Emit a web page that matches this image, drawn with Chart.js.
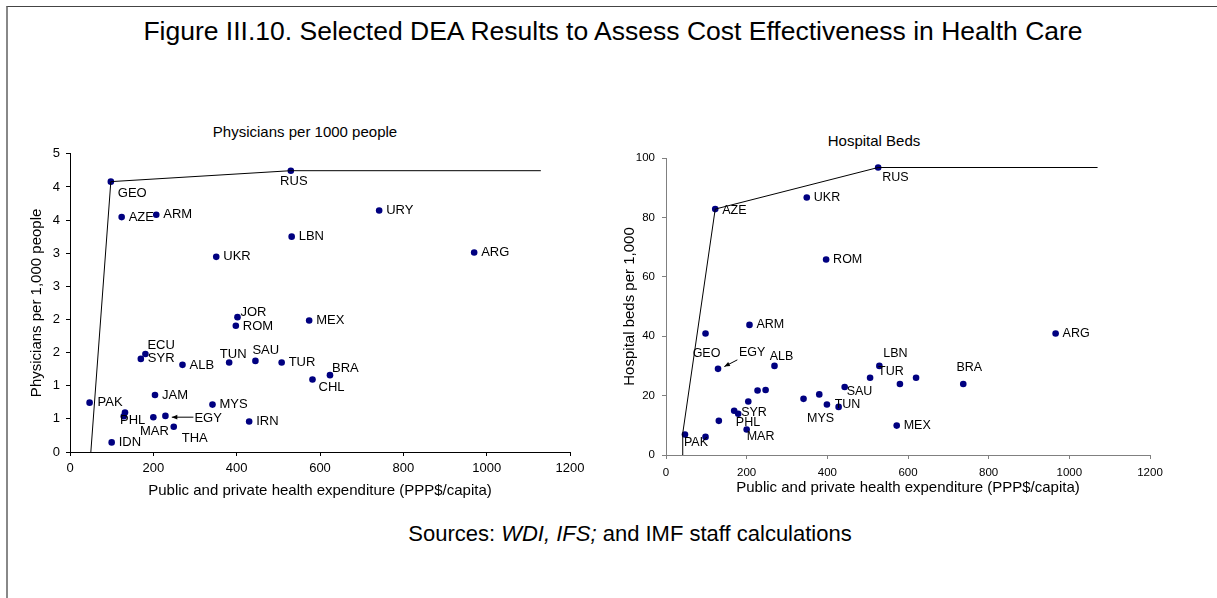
<!DOCTYPE html>
<html>
<head>
<meta charset="utf-8">
<script src="https://cdn.jsdelivr.net/npm/chart.js@4.4.1/dist/chart.umd.min.js"></script>
<style>
  body { margin: 0; background: #fff; font-family: 'Liberation Sans', Arial, sans-serif; }
  #page { position: relative; width: 1217px; height: 598px; overflow: hidden; }
  #frame { position: absolute; left: 6px; top: 6px; width: 1300px; height: 700px;
           border-top: 1px solid #444; border-left: 2px solid #888; }
  .txt { position: absolute; white-space: nowrap; transform: translate(-50%, -50%); color: #000; }
  canvas { position: absolute; }
</style>
</head>
<body>
<div id="page">
  <div id="frame"></div>
  <div class="txt" style="left:613px; top:31px; font-size:26.5px;">Figure III.10. Selected DEA Results to Assess Cost Effectiveness in Health Care</div>
  <div class="txt" style="left:305px; top:131px; font-size:15px;">Physicians per 1000 people</div>
  <div class="txt" style="left:874px; top:140px; font-size:15px;">Hospital Beds</div>
  <div class="txt" style="left:630px; top:534px; font-size:22px;">Sources: <i>WDI, IFS;</i> and IMF staff calculations</div>
  <canvas id="physChart" width="600" height="370" style="left:0px; top:140px;"></canvas>
  <canvas id="bedsChart" width="617" height="370" style="left:600px; top:140px;"></canvas>
</div>
<script>
// Physicians per 1,000 people vs health spending
const physCountries = ['GEO','RUS','AZE','ARM','LBN','UKR','URY','ARG','JOR','ROM','MEX','ECU','SYR','ALB','TUN',
                       'SAU','TUR','CHL','BRA','PAK','JAM','MYS','PHL','','MAR','EGY','THA','IRN','IDN'];
const physSpend = [98, 530, 124, 207, 532, 351, 742, 970, 402, 398, 574, 181, 170, 270, 382,
                   445, 508, 582, 624, 47, 204, 342, 132, 129, 200, 229, 249, 430, 100];
const physValue = [4.08, 4.245, 3.545, 3.58, 3.25, 2.945, 3.645, 3.01, 2.035, 1.905, 1.985, 1.48, 1.405, 1.315, 1.35,
                   1.375, 1.35, 1.095, 1.16, 0.745, 0.86, 0.715, 0.595, 0.54, 0.525, 0.545, 0.38, 0.46, 0.145];
const physFrontierX = [50, 98, 530, 1130];
const physFrontierY = [0, 4.08, 4.245, 4.245];

// Hospital beds per 1,000 vs health spending
const bedsCountries = ['AZE','UKR','RUS','ROM','ARM','GEO','EGY','ALB','LBN','TUR','','','SAU','','MYS',
                       '','TUN','','','','SYR','','PHL','MAR','PAK','','MEX','BRA','ARG'];
const bedsSpend = [122, 349, 526, 397, 207, 98, 129, 269, 529, 506, 580, 620, 443, 380, 341,
                   399, 428, 204, 227, 247, 169, 179, 131, 200, 47, 98, 572, 737, 966];
const bedsValue = [82.8, 86.7, 96.8, 65.8, 43.8, 40.9, 29.0, 30.0, 30.0, 26.0, 23.9, 26.0, 22.9, 20.4, 18.9,
                   17.0, 16.2, 18.0, 21.7, 21.9, 14.9, 13.9, 11.5, 8.6, 6.9, 6.1, 9.9, 23.9, 40.9];
const bedsFrontierX = [40.5, 41.5, 122, 526, 1070];
const bedsFrontierY = [0, 7.3, 82.8, 96.8, 96.8];

const xTicks = [0, 200, 400, 600, 800, 1000, 1200];

// label placement: [dx, dy, align]; 'r' = just right of the dot
const physLabelPos = ['7,12,left','3,11,center','r','r','r','r','r','r','3,-5,left','7,1,left','r','2,-9,left','r','7,1,left','4,-8,center',
                      '-3,-10,left','r','6,8,left','2,-7,left','8,0,left','r','r','-5,8,left','r','1,14,center','29,3,left','8,12,left','r','r'];
const bedsLabelPos = ['7,1,left','r','4,10,left','r','r','1,20,center','21,-16,left','7,-9,center','16,-12,center','8,-6,left','r','r','2,5,left','r','17,20,center',
                      'r','-4,-2,left','r','r','r','7,2,left','r','17,2,left','0,7,left','-1,8,left','r','r','6,-16,center','r'];

Chart.defaults.font.family = "'Liberation Sans', Arial, sans-serif";
Chart.defaults.color = '#000';

const pointLabels = {
    id: 'pointLabels',
    afterDatasetsDraw(chart, args, opts) {
        const ctx = chart.ctx;
        const meta = chart.getDatasetMeta(1);
        ctx.save();
        ctx.font = opts.fontSize + "px 'Liberation Sans', Arial, sans-serif";
        ctx.fillStyle = '#000';
        ctx.textBaseline = 'middle';
        opts.labels.forEach((name, i) => {
            if (!name) return;
            const pt = meta.data[i];
            let spec = opts.pos[i] === 'r' ? ['7', '0', 'left'] : opts.pos[i].split(',');
            ctx.textAlign = spec[2];
            ctx.fillText(name, pt.x + Number(spec[0]), pt.y + Number(spec[1]));
        });
        // EGY arrow
        const idx = opts.labels.indexOf('EGY');
        if (idx >= 0 && opts.arrow) {
            const pt = meta.data[idx];
            const [fx, fy, tx, ty] = opts.arrow;
            const x1 = pt.x + fx, y1 = pt.y + fy, x2 = pt.x + tx, y2 = pt.y + ty;
            ctx.strokeStyle = '#000';
            ctx.lineWidth = 1;
            ctx.beginPath();
            ctx.moveTo(x1, y1);
            ctx.lineTo(x2, y2);
            ctx.stroke();
            const ang = Math.atan2(y2 - y1, x2 - x1);
            ctx.beginPath();
            ctx.moveTo(x2, y2);
            ctx.lineTo(x2 - 6 * Math.cos(ang - 0.4), y2 - 6 * Math.sin(ang - 0.4));
            ctx.lineTo(x2 - 6 * Math.cos(ang + 0.4), y2 - 6 * Math.sin(ang + 0.4));
            ctx.closePath();
            ctx.fillStyle = '#000';
            ctx.fill();
        }
        ctx.restore();
    }
};

function makeChart(id, cfg) {
    const ctx = document.getElementById(id).getContext('2d');
    return new Chart(ctx, {
        type: 'scatter',
        data: {
            datasets: [
                {
                    type: 'line',
                    data: cfg.frontierX.map((x, i) => ({ x: x, y: cfg.frontierY[i] })),
                    borderColor: '#000',
                    borderWidth: 1,
                    pointRadius: 0,
                    fill: false,
                    tension: 0
                },
                {
                    data: cfg.spend.map((x, i) => ({ x: x, y: cfg.values[i] })),
                    backgroundColor: '#000080',
                    borderColor: '#000080',
                    pointRadius: 3.3,
                    borderWidth: 0
                }
            ]
        },
        options: {
            responsive: false,
            animation: false,
            devicePixelRatio: 1,
            layout: { padding: cfg.padding },
            plugins: {
                legend: { display: false },
                tooltip: { enabled: false },
                pointLabels: { labels: cfg.labels, pos: cfg.pos, arrow: cfg.arrow, fontSize: cfg.labelSize }
            },
            scales: {
                x: {
                    type: 'linear',
                    min: 0, max: 1200,
                    afterBuildTicks: s => { s.ticks = xTicks.map(v => ({ value: v })); },
                    afterFit: s => { s.height = 50; },
                    grid: { drawOnChartArea: false, tickLength: 4, color: cfg.axisColor },
                    border: { display: true, color: cfg.axisColor, width: 1 },
                    ticks: { font: { size: cfg.tickSize }, padding: cfg.xTickPad, maxRotation: 0,
                             callback: v => String(v) },
                    title: { display: true, text: 'Public and private health expenditure (PPP$/capita)',
                             font: { size: 15 }, padding: { top: 0, bottom: cfg.xTitlePad } }
                },
                y: {
                    type: 'linear',
                    min: 0, max: cfg.yMax,
                    ticks: { stepSize: cfg.yStep, font: { size: cfg.tickSize }, padding: cfg.yTickPad,
                             callback: v => String(Math.round(v)) },
                    afterFit: s => { s.width = cfg.yWidth; },
                    grid: { drawOnChartArea: false, tickLength: 4, color: cfg.axisColor },
                    border: { display: true, color: cfg.axisColor, width: 1 },
                    title: { display: true, text: cfg.yTitle, font: { size: 15 },
                             padding: { top: cfg.yTitlePad, bottom: 0 } }
                }
            }
        },
        plugins: [pointLabels]
    });
}

makeChart('physChart', {
    frontierX: physFrontierX, frontierY: physFrontierY,
    spend: physSpend, values: physValue, labels: physCountries, pos: physLabelPos,
    arrow: [28, 1.3, 6.4, 1.3],
    padding: { left: 10, right: 30, top: 12, bottom: 8 },
    yWidth: 60, yMax: 4.5, yStep: 0.5,
    yTitle: 'Physicians per 1,000 people',
    tickSize: 13, labelSize: 13, xTickPad: 5, yTickPad: 6, xTitlePad: 2, yTitlePad: 18,
    axisColor: '#000'
});

makeChart('bedsChart', {
    frontierX: bedsFrontierX, frontierY: bedsFrontierY,
    spend: bedsSpend, values: bedsValue, labels: bedsCountries, pos: bedsLabelPos,
    arrow: [19.3, -9, 6.3, -2.3],
    padding: { left: 10, right: 67, top: 18, bottom: 5 },
    yWidth: 56, yMax: 100, yStep: 20,
    yTitle: 'Hospital beds per 1,000',
    tickSize: 11.5, labelSize: 12.5, xTickPad: 7, yTickPad: 7, xTitlePad: 8, yTitlePad: 11,
    axisColor: '#808080'
});
</script>
</body>
</html>
